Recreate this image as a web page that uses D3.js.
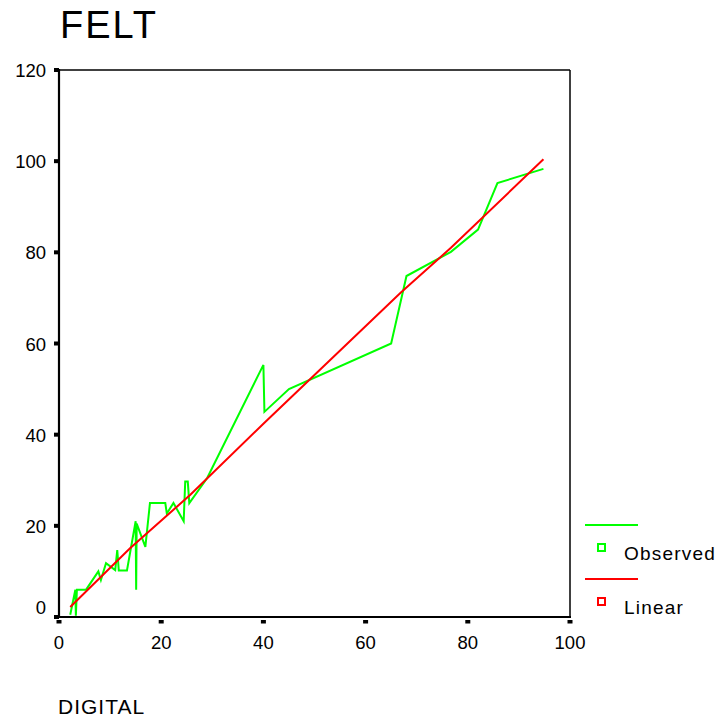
<!DOCTYPE html>
<html>
<head>
<meta charset="utf-8">
<script src="https://cdn.jsdelivr.net/npm/d3@7"></script>
<style>
  html, body { margin: 0; padding: 0; background: #ffffff; }
  svg { display: block; font-family: "Liberation Sans", Arial, sans-serif; }
</style>
</head>
<body>
<svg id="chart" width="721" height="719"></svg>
<script>
// ---- data ----
const observedX = [2.2, 3.2, 3.3, 3.5, 5.3, 7.7, 8.2, 9.2, 11.0, 11.4, 11.7, 13.3, 15.0, 15.1, 15.2, 16.9, 17.8, 20.8, 21.1, 22.4, 24.4, 24.7, 25.2, 25.5, 29.0, 40.0, 40.2, 45.0, 65.0, 68.0, 76.7, 82.0, 85.8, 94.8];
const observedY = [0.5, 6.0, 0.3, 6.0, 6.0, 10.0, 8.1, 11.8, 10.3, 14.7, 10.2, 10.2, 21.0, 6.0, 20.5, 15.4, 25.0, 25.0, 22.7, 25.0, 21.0, 29.7, 29.7, 25.0, 30.5, 55.3, 45.0, 50.0, 60.0, 74.8, 80.1, 85.0, 95.2, 98.3];
const linearX = [2.2, 13.9, 25.7, 40.0, 66.9, 76.7, 94.8];
const linearY = [2.2, 15.1, 26.8, 42.4, 71.2, 81.0, 100.4];
const xTicks = [0, 20, 40, 60, 80, 100];
const yTicks = [0, 20, 40, 60, 80, 100, 120];
const seriesNames = ["Observed", "Linear"];
const seriesColors = ["#00ff00", "#ff0000"];
const titleText = "FELT";
const xTitleText = "DIGITAL";

// ---- layout ----
const svg = d3.select("#chart");
const x = d3.scaleLinear().domain([0, 100]).range([59, 570]);
const y = d3.scaleLinear().domain([0, 120]).range([617, 70]);

// title
svg.append("text")
  .attr("x", 60).attr("y", 37.5)
  .attr("font-size", 38).attr("letter-spacing", 2)
  .attr("fill", "#000").text(titleText);

// frame (top & right thinner)
svg.append("line").attr("x1", x(0)).attr("x2", x(100)).attr("y1", y(120)).attr("y2", y(120))
  .attr("stroke", "#000").attr("stroke-width", 1.5);
svg.append("line").attr("x1", x(100)).attr("x2", x(100)).attr("y1", y(120)).attr("y2", y(0))
  .attr("stroke", "#000").attr("stroke-width", 1.5);
// axes lines
svg.append("line").attr("x1", x(0)).attr("x2", x(0)).attr("y1", y(120) - 1).attr("y2", y(0) + 1)
  .attr("stroke", "#000").attr("stroke-width", 2.2);
svg.append("line").attr("x1", x(0) - 1).attr("x2", x(100) + 1).attr("y1", y(0)).attr("y2", y(0))
  .attr("stroke", "#000").attr("stroke-width", 2.2);

// y ticks (small squares left of axis)
svg.selectAll(".ytick").data(yTicks).join("rect")
  .attr("class", "ytick")
  .attr("x", x(0) - 5).attr("y", d => y(d) - 2)
  .attr("width", 5).attr("height", 4).attr("fill", "#000");
// x ticks (small squares below axis)
svg.selectAll(".xtick").data(xTicks).join("rect")
  .attr("class", "xtick")
  .attr("x", d => x(d) - 2.5).attr("y", y(0) + 3)
  .attr("width", 5).attr("height", 3.5).attr("fill", "#000");

// y tick labels
svg.selectAll(".ylab").data(yTicks).join("text")
  .attr("class", "ylab")
  .attr("x", 46)
  .attr("y", d => (d === 0 ? y(d) - 10 : y(d)) + 7)
  .attr("text-anchor", "end")
  .attr("font-size", 18.5).attr("fill", "#000")
  .text(d => d);
// x tick labels
svg.selectAll(".xlab").data(xTicks).join("text")
  .attr("class", "xlab")
  .attr("x", d => x(d))
  .attr("y", 648.5)
  .attr("text-anchor", "middle")
  .attr("font-size", 18.5).attr("fill", "#000")
  .text(d => d);

// x title
svg.append("text")
  .attr("x", 58).attr("y", 713.5)
  .attr("font-size", 21).attr("letter-spacing", 1)
  .attr("fill", "#000").text(xTitleText);

// series lines
const line = d3.line().x(d => x(d[0])).y(d => y(d[1]));
const observed = observedX.map((v, i) => [v, observedY[i]]);
const linear = linearX.map((v, i) => [v, linearY[i]]);

svg.append("path").datum(observed)
  .attr("d", line).attr("fill", "none")
  .attr("stroke", seriesColors[0]).attr("stroke-width", 2)
  .attr("stroke-linejoin", "miter").attr("stroke-miterlimit", 4);
svg.append("path").datum(linear)
  .attr("d", line).attr("fill", "none")
  .attr("stroke", seriesColors[1]).attr("stroke-width", 2);

// legend
const legend = svg.append("g");
const legendRows = seriesNames.map((n, i) => ({ name: n, color: seriesColors[i], top: 525 + i * 54 }));
legendRows.forEach(r => {
  legend.append("line").attr("x1", 585).attr("x2", 638).attr("y1", r.top).attr("y2", r.top)
    .attr("stroke", r.color).attr("stroke-width", 2);
  legend.append("rect").attr("x", 598).attr("y", r.top + 19).attr("width", 7).attr("height", 7)
    .attr("fill", "none").attr("stroke", r.color).attr("stroke-width", 2);
  legend.append("text").attr("x", 624).attr("y", r.top + 35)
    .attr("font-size", 19).attr("letter-spacing", 1.2).attr("fill", "#000").text(r.name);
});
</script>
</body>
</html>
